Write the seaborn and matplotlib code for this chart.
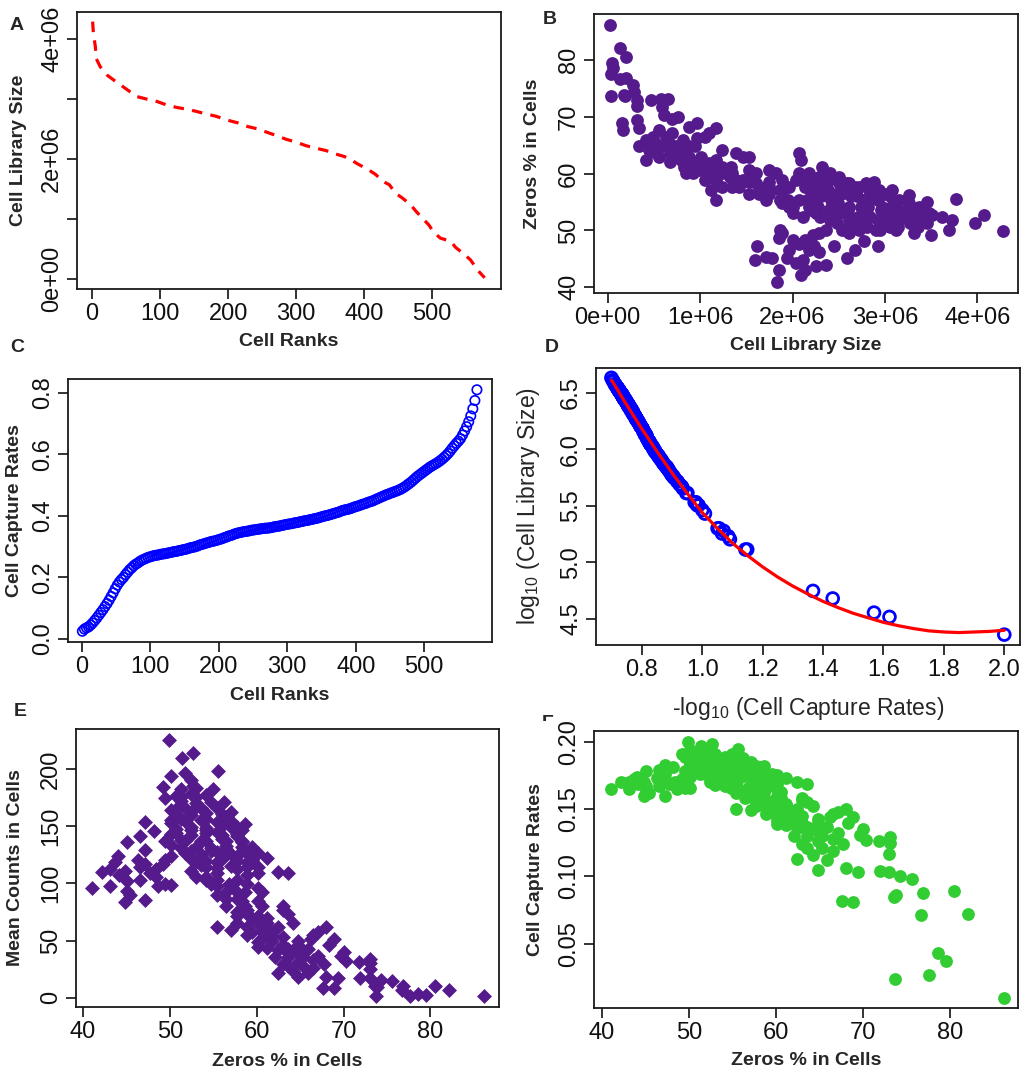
import numpy as np
import pandas as pd
import matplotlib
matplotlib.use("Agg")
import matplotlib.pyplot as plt
import seaborn as sns
from matplotlib.transforms import Bbox

PURPLE = "#551A8B"
GREEN = "#32CD32"

# panel A: library size of each cell (millions) against its rank
rank_a = [1, 2, 5, 6, 12, 22, 35, 45, 56, 66, 80, 95, 110, 124, 139, 151, 168, 183,
          198, 215, 229, 244, 256, 271, 285, 300, 315, 329, 344, 356, 371, 383, 390,
          405, 417, 427, 437, 446, 456, 468, 476, 485, 495, 502, 512, 527, 534, 546,
          556, 563, 568, 577]
lib_ranked_m = [4.29, 4.10, 3.87, 3.68, 3.54, 3.40, 3.29, 3.21, 3.12, 3.04, 3.00, 2.96,
                2.90, 2.86, 2.83, 2.80, 2.75, 2.71, 2.65, 2.60, 2.54, 2.50, 2.45, 2.39,
                2.33, 2.28, 2.22, 2.18, 2.14, 2.09, 2.04, 1.97, 1.92, 1.83, 1.74, 1.63,
                1.57, 1.43, 1.35, 1.24, 1.13, 1.02, 0.90, 0.78, 0.68, 0.63, 0.53, 0.42,
                0.32, 0.21, 0.13, 0.02]

# panel C: sorted capture rates, read every 3rd rank (1, 4, 7, ...)
capture_ranked = [
    0.025, 0.032, 0.036, 0.039, 0.045, 0.052, 0.060, 0.068, 0.077, 0.086,
    0.095, 0.105, 0.115, 0.126, 0.138, 0.150, 0.163, 0.175, 0.185, 0.193,
    0.200, 0.209, 0.217, 0.225, 0.231, 0.238, 0.243, 0.247, 0.252, 0.256,
    0.259, 0.262, 0.265, 0.267, 0.269, 0.271, 0.272, 0.273, 0.275, 0.276,
    0.277, 0.278, 0.280, 0.281, 0.283, 0.284, 0.285, 0.287, 0.288, 0.290,
    0.291, 0.293, 0.295, 0.297, 0.298, 0.300, 0.302, 0.305, 0.307, 0.309,
    0.311, 0.313, 0.315, 0.317, 0.318, 0.320, 0.322, 0.324, 0.326, 0.329,
    0.331, 0.334, 0.336, 0.338, 0.341, 0.343, 0.345, 0.346, 0.348, 0.349,
    0.350, 0.351, 0.353, 0.354, 0.355, 0.356, 0.357, 0.358, 0.359, 0.360,
    0.360, 0.361, 0.362, 0.364, 0.365, 0.366, 0.367, 0.369, 0.370, 0.372,
    0.373, 0.374, 0.375, 0.377, 0.378, 0.379, 0.381, 0.382, 0.384, 0.385,
    0.386, 0.388, 0.389, 0.391, 0.392, 0.394, 0.396, 0.398, 0.400, 0.401,
    0.403, 0.405, 0.407, 0.409, 0.411, 0.413, 0.416, 0.418, 0.420, 0.421,
    0.423, 0.425, 0.428, 0.430, 0.432, 0.434, 0.437, 0.439, 0.441, 0.444,
    0.446, 0.448, 0.451, 0.454, 0.457, 0.460, 0.463, 0.466, 0.469, 0.471,
    0.474, 0.476, 0.479, 0.481, 0.484, 0.487, 0.491, 0.495, 0.500, 0.505,
    0.510, 0.516, 0.522, 0.528, 0.533, 0.538, 0.543, 0.548, 0.553, 0.558,
    0.562, 0.566, 0.570, 0.574, 0.579, 0.584, 0.590, 0.596, 0.603, 0.611,
    0.620, 0.628, 0.636, 0.643, 0.651, 0.663, 0.676, 0.690, 0.706, 0.725,
    0.748, 0.775, 0.810]
rank_c = [1 + 3 * i for i in range(len(capture_ranked))]

# per-cell values: library size (millions), zeros %, capture rate
lib_size_m = [
    0.023, 0.13, 0.20, 0.048, 0.056, 0.036, 0.13, 0.20, 0.033, 0.18, 0.19, 0.27, 0.29,
    0.32, 0.32, 0.47, 0.58, 0.65, 0.59, 0.16, 0.17, 0.32, 0.34, 0.61, 0.70, 0.76,
    0.34, 0.41, 0.49, 0.56, 0.63, 0.70, 0.41, 0.52, 0.59, 0.67,
    0.74, 0.67, 0.79, 0.83, 0.81, 0.88, 0.97, 0.88, 0.95, 0.97,
    1.05, 1.10, 1.17, 1.01, 0.99, 1.05, 1.12, 1.17, 1.10, 1.17,
    1.24, 1.24, 1.33, 1.35, 1.39, 1.46, 1.53, 1.53, 1.60, 1.53,
    1.42, 1.35, 1.64, 1.71, 1.75, 1.75, 1.82, 1.89, 1.86, 1.95,
    1.96, 2.04, 2.07, 2.09, 2.07, 2.14, 2.18, 2.25, 2.32, 2.36,
    2.41, 2.50, 2.47, 2.58, 2.61, 2.68, 2.79, 2.88, 2.76, 2.90,
    3.01, 3.08, 3.26, 3.46, 3.77, 3.51, 3.62, 3.73, 3.69, 3.98,
    4.07, 4.28, 3.50, 3.32, 3.12, 2.97, 2.90,
    2.25, 2.43, 2.61, 2.79, 2.97, 3.15, 3.33, 2.43, 2.61, 2.79,
    3.15, 3.33, 2.25, 2.18, 2.07, 2.00, 2.11, 2.54, 2.61, 2.72,
    1.89, 2.00, 1.87, 1.85, 1.89, 1.96, 1.94, 2.04, 2.11, 2.00,
    2.07, 2.14, 2.22, 2.29, 2.36, 2.23, 2.29, 2.18, 2.09, 2.14,
    2.25, 2.36, 2.45, 2.59, 2.68, 2.77, 2.92, 1.85, 1.83, 1.78,
    1.71, 1.62, 1.59,
    0.45, 0.56, 0.74, 0.88, 1.03, 1.17, 1.32, 1.46, 1.60, 1.75,
    1.89, 1.39, 1.24, 1.10, 0.95, 0.81, 0.67, 0.52, 1.17, 1.24,
    1.10, 0.92, 0.85, 1.64, 1.75, 1.86, 1.53, 2.83, 1.96,
    2.17, 2.19, 2.16, 2.20, 2.29, 2.27, 2.31, 2.28, 2.30, 2.40,
    2.38, 2.42, 2.39, 2.41, 2.50, 2.52, 2.49, 2.51, 2.48, 2.61,
    2.63, 2.60, 2.62, 2.72, 2.70, 2.74, 2.71, 2.73, 2.83, 2.85,
    2.82, 2.84, 2.81, 2.94, 2.92, 2.96, 2.93, 2.95, 3.05, 3.07,
    3.04, 3.06, 3.15, 3.17, 3.14, 3.26, 3.24, 3.27, 3.37, 3.39,
    3.36, 3.48, 3.46]
zeros_pct = [
    86.2, 82.1, 80.5, 79.5, 78.6, 77.6, 76.7, 76.9, 73.7, 73.8, 73.6, 75.6, 74.3,
    73.0, 71.9, 73.0, 73.1, 73.1, 71.8, 68.9, 67.6, 69.4, 68.0, 70.3, 69.7, 70.0,
    64.8, 65.9, 66.5, 67.7, 66.5, 67.1, 62.4, 63.6, 64.8, 63.6,
    64.8, 62.1, 62.4, 61.2, 65.9, 68.3, 68.9, 64.8, 64.8, 66.2,
    66.5, 67.1, 68.0, 63.0, 60.6, 58.9, 57.1, 55.4, 61.8, 62.4,
    64.2, 61.2, 61.2, 60.1, 63.6, 63.0, 63.0, 60.6, 60.1, 58.6,
    57.7, 57.7, 56.5, 55.4, 60.6, 58.6, 60.1, 58.9, 57.1, 55.4,
    57.7, 58.9, 63.6, 62.4, 60.1, 57.7, 60.1, 58.9, 61.2, 57.7,
    60.1, 59.5, 56.5, 58.3, 56.5, 57.7, 58.3, 58.6, 55.4, 56.0,
    56.5, 57.1, 56.2, 55.0, 55.6, 52.7, 52.4, 51.8, 50.1, 51.4,
    52.7, 49.9, 49.2, 49.5, 50.1, 51.3, 50.1,
    55.4, 54.8, 54.2, 54.2, 54.2, 53.6, 53.0, 52.4, 51.8, 52.4,
    51.8, 51.3, 53.0, 54.2, 55.4, 54.2, 52.4, 50.1, 49.5, 50.1,
    54.8, 53.0, 50.1, 48.6, 49.5, 46.6, 45.1, 44.2, 44.8, 48.4,
    47.7, 48.4, 49.2, 49.5, 50.1, 47.2, 46.3, 46.6, 42.2, 43.1,
    43.7, 44.0, 47.2, 45.1, 46.6, 48.2, 47.2, 43.1, 41.0, 45.1,
    45.4, 47.2, 44.8,
    64.2, 63.0, 63.6, 63.0, 61.8, 60.6, 59.5, 58.9, 58.3, 57.7,
    56.8, 58.9, 60.1, 60.6, 61.8, 63.6, 65.3, 65.3, 58.9, 57.7,
    59.5, 60.1, 60.1, 57.7, 56.5, 55.4, 56.5, 57.1, 54.2,
    58.9, 57.1, 55.4, 53.6, 59.5, 57.7, 56.0, 54.2, 52.4, 58.9,
    57.1, 55.4, 53.6, 51.8, 58.3, 56.5, 54.8, 53.0, 51.3, 58.3,
    56.0, 53.6, 51.3, 57.7, 56.0, 54.2, 52.4, 50.7, 57.7, 56.0,
    54.2, 52.4, 50.7, 57.1, 55.4, 53.6, 51.8, 50.1, 56.0, 54.2,
    52.4, 50.7, 55.4, 53.0, 50.7, 54.8, 53.0, 51.3, 54.2, 52.4,
    50.7, 53.0, 51.3]
capture_rate = [
    0.0100, 0.072, 0.089, 0.037, 0.043, 0.027, 0.071, 0.088, 0.024, 0.086, 0.085, 0.098, 0.100,
    0.103, 0.104, 0.117, 0.125, 0.129, 0.126, 0.081, 0.082, 0.103, 0.106, 0.127, 0.131, 0.135,
    0.105, 0.112, 0.119, 0.124, 0.128, 0.132, 0.113, 0.121, 0.126, 0.130,
    0.134, 0.130, 0.136, 0.138, 0.137, 0.140, 0.144, 0.140, 0.143, 0.144,
    0.146, 0.148, 0.150, 0.145, 0.144, 0.146, 0.149, 0.150, 0.148, 0.150,
    0.152, 0.152, 0.154, 0.154, 0.155, 0.157, 0.158, 0.158, 0.160, 0.158,
    0.156, 0.155, 0.161, 0.162, 0.163, 0.163, 0.165, 0.166, 0.165, 0.167,
    0.167, 0.169, 0.169, 0.170, 0.169, 0.170, 0.171, 0.172, 0.173, 0.174,
    0.175, 0.176, 0.176, 0.178, 0.178, 0.179, 0.181, 0.182, 0.180, 0.183,
    0.184, 0.185, 0.188, 0.191, 0.195, 0.191, 0.193, 0.194, 0.194, 0.197,
    0.198, 0.200, 0.191, 0.189, 0.186, 0.184, 0.183,
    0.172, 0.175, 0.178, 0.181, 0.184, 0.186, 0.189, 0.175, 0.178, 0.181,
    0.186, 0.189, 0.172, 0.171, 0.169, 0.168, 0.170, 0.177, 0.178, 0.180,
    0.166, 0.168, 0.166, 0.165, 0.166, 0.167, 0.167, 0.169, 0.170, 0.168,
    0.169, 0.170, 0.172, 0.173, 0.174, 0.172, 0.173, 0.171, 0.170, 0.170,
    0.172, 0.174, 0.176, 0.178, 0.179, 0.181, 0.183, 0.165, 0.165, 0.164,
    0.162, 0.160, 0.160,
    0.116, 0.124, 0.134, 0.140, 0.146, 0.150, 0.153, 0.157, 0.160, 0.163,
    0.166, 0.155, 0.152, 0.148, 0.143, 0.137, 0.130, 0.121, 0.150, 0.152,
    0.148, 0.142, 0.139, 0.161, 0.163, 0.165, 0.158, 0.182, 0.167,
    0.171, 0.172, 0.170, 0.171, 0.173, 0.172, 0.174, 0.173, 0.173, 0.175,
    0.174, 0.175, 0.175, 0.176, 0.176, 0.177, 0.176, 0.177, 0.176, 0.178,
    0.179, 0.178, 0.178, 0.180, 0.180, 0.181, 0.180, 0.180, 0.182, 0.182,
    0.182, 0.182, 0.181, 0.183, 0.183, 0.184, 0.183, 0.183, 0.185, 0.185,
    0.185, 0.184, 0.186, 0.187, 0.186, 0.188, 0.188, 0.188, 0.189, 0.190,
    0.189, 0.191, 0.191]

# panel D: fitted curve
fit_x = [0.70, 0.75, 0.80, 0.85, 0.90, 0.95, 1.00, 1.05, 1.10, 1.15, 1.20, 1.25,
         1.30, 1.35, 1.40, 1.45, 1.50, 1.55, 1.60, 1.65, 1.70, 1.75, 1.80, 1.85,
         1.90, 1.95, 2.00]
fit_y = [6.61, 6.39, 6.18, 5.98, 5.79, 5.61, 5.44, 5.30, 5.17, 5.06, 4.96, 4.87,
         4.79, 4.72, 4.655, 4.60, 4.55, 4.51, 4.47, 4.44, 4.415, 4.395, 4.385, 4.38,
         4.385, 4.39, 4.40]

n_genes = 19000  # mean counts = library size / genes

cells = pd.DataFrame({"lib": np.array(lib_size_m) * 1e6,
                      "zeros": zeros_pct,
                      "capture": capture_rate})
cells["mean_counts"] = cells["lib"] / n_genes
cells["neg_log_cap"] = -np.log10(cells["capture"])
cells["log_lib"] = np.log10(cells["lib"])

sns.set_style("ticks")
plt.rcParams["font.family"] = ["Liberation Sans", "DejaVu Sans"]
plt.rcParams["mathtext.fontset"] = "custom"
plt.rcParams["mathtext.rm"] = "Liberation Sans"
plt.rcParams["mathtext.it"] = "Liberation Sans:italic"
plt.rcParams["mathtext.bf"] = "Liberation Sans:bold"

W, H = 1036, 1074
fig = plt.figure(figsize=(W / 100, H / 100), dpi=100)


def make_axes(left, top, right, bottom):
    return fig.add_axes([left / W, 1 - bottom / H, (right - left) / W, (bottom - top) / H])


def style_axes(ax, xlim, ylim, xticks, xlabels, yticks, ylabels, xlabel, ylabel,
               xlab_y, ylab_x, plain=False):
    ax.set_xlim(xlim)
    ax.set_ylim(ylim)
    ax.set_xticks(xticks, xlabels)
    ax.set_yticks(yticks, ylabels)
    for t in ax.get_yticklabels():
        t.set_rotation(90)
        t.set_va("center")
    ax.tick_params(direction="out", length=7, width=1.2, labelsize=17, pad=3,
                   colors="#111111")
    for s in ax.spines.values():
        s.set_linewidth(1.3)
        s.set_color("#1a1a1a")
    if plain:
        kw = dict(fontsize=16.5)
    else:
        kw = dict(fontsize=14, fontweight="bold")
    ax.set_xlabel(xlabel, **kw)
    ax.set_ylabel(ylabel, **kw)
    ax.xaxis.set_label_coords(0.5, xlab_y)
    ax.yaxis.set_label_coords(ylab_x, 0.5)


# A
ax = make_axes(77, 12, 501, 289)
sns.lineplot(x=rank_a, y=np.array(lib_ranked_m) * 1e6, color="red", lw=2.3,
             errorbar=None, ax=ax)
ax.get_lines()[-1].set_dashes((3.3, 2.6))
style_axes(ax, (-22, 601), (-0.167e6, 4.45e6),
           [0, 100, 200, 300, 400, 500], ["0", "100", "200", "300", "400", "500"],
           [0, 1e6, 2e6, 3e6, 4e6], ["0e+00", "", "2e+06", "", "4e+06"],
           "Cell Ranks", "Cell Library Size", -0.16, -0.118)

# B
ax = make_axes(594, 14, 1018, 293)
sns.scatterplot(data=cells, x="lib", y="zeros", color=PURPLE, s=85, linewidth=0, ax=ax)
style_axes(ax, (-0.148e6, 4.44e6), (39.0, 88.1),
           [0, 1e6, 2e6, 3e6, 4e6], ["0e+00", "1e+06", "2e+06", "3e+06", "4e+06"],
           [40, 50, 60, 70, 80], ["40", "50", "60", "70", "80"],
           "Cell Library Size", "Zeros % in Cells", -0.158, -0.125)

# C
ax = make_axes(68, 379, 492, 642)
sns.scatterplot(x=rank_c, y=capture_ranked, marker="o", facecolor="none",
                edgecolor="blue", linewidth=1.2, s=46, ax=ax)
style_axes(ax, (-20, 599), (-0.01, 0.845),
           [0, 100, 200, 300, 400, 500], ["0", "100", "200", "300", "400", "500"],
           [0, 0.2, 0.4, 0.6, 0.8], ["0.0", "0.2", "0.4", "0.6", "0.8"],
           "Cell Ranks", "Cell Capture Rates", -0.171, -0.106)

# D
ax = make_axes(596, 368, 1020, 645)
sns.scatterplot(data=cells, x="neg_log_cap", y="log_lib", marker="o", facecolor="none",
                edgecolor="blue", linewidth=2.0, s=72, ax=ax)
sns.lineplot(x=fit_x, y=fit_y, color="red", lw=2.3, errorbar=None, ax=ax)
style_axes(ax, (0.648, 2.052), (4.27, 6.718),
           [0.8, 1.0, 1.2, 1.4, 1.6, 1.8, 2.0], ["0.8", "1.0", "1.2", "1.4", "1.6", "1.8", "2.0"],
           [4.5, 5.0, 5.5, 6.0, 6.5], ["4.5", "5.0", "5.5", "6.0", "6.5"],
           r"-log$_{10}$ (Cell Capture Rates)", r"log$_{10}$ (Cell Library Size)",
           -0.18, -0.127, plain=True)

# E
ax = make_axes(76, 729, 499, 1007)
sns.scatterplot(data=cells, x="zeros", y="mean_counts", marker="D", color=PURPLE,
                s=58, linewidth=0, ax=ax)
style_axes(ax, (39.2, 87.9), (-8.1, 235),
           [40, 50, 60, 70, 80], ["40", "50", "60", "70", "80"],
           [0, 50, 100, 150, 200], ["0", "50", "100", "150", "200"],
           "Zeros % in Cells", "Mean Counts in Cells", -0.165, -0.123)

# F
ax = make_axes(594, 731, 1018, 1008)
sns.scatterplot(data=cells, x="zeros", y="capture", color=GREEN, s=85, linewidth=0, ax=ax)
style_axes(ax, (39.1, 87.8), (0.0023, 0.208),
           [40, 50, 60, 70, 80], ["40", "50", "60", "70", "80"],
           [0.05, 0.10, 0.15, 0.20], ["0.05", "0.10", "0.15", "0.20"],
           "Zeros % in Cells", "Cell Capture Rates", -0.159, -0.118)

# panel letters
for letter, (px, py) in {"A": (17, 25), "B": (550, 19), "C": (17, 347),
                         "D": (552, 348), "E": (20, 712)}.items():
    fig.text(px / W, 1 - py / H, letter, fontsize=14, fontweight="bold",
             ha="center", va="center")
f_txt = fig.text(548 / W, 1 - 724 / H, "F", fontsize=14, fontweight="bold",
                 ha="center", va="center")
f_txt.set_clip_box(Bbox.from_extents(0, H - 721, W, H))
f_txt.set_clip_on(True)

fig.savefig("out.png", dpi=100)
